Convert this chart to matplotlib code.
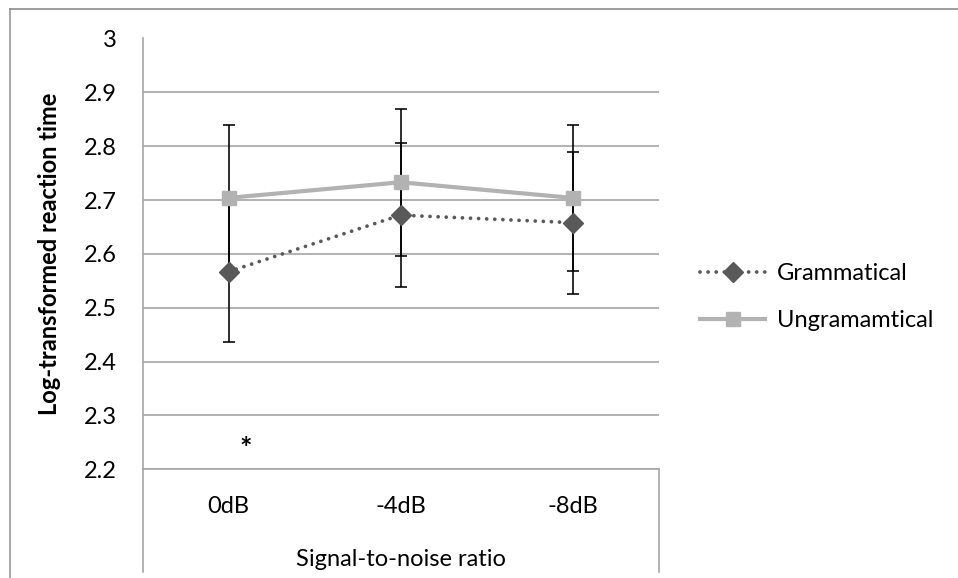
import matplotlib
matplotlib.use("Agg")
import matplotlib.pyplot as plt
from matplotlib.lines import Line2D
import numpy as np

plt.rcParams['font.family'] = ['Lato', 'DejaVu Sans']

# Data
categories = ["0dB", "-4dB", "-8dB"]
grammatical = [2.567, 2.672, 2.658]
grammatical_err = [0.130, 0.134, 0.132]
ungrammatical = [2.704, 2.733, 2.704]
ungrammatical_err = [0.135, 0.137, 0.135]
y_ticks = [2.2, 2.3, 2.4, 2.5, 2.6, 2.7, 2.8, 2.9, 3.0]
y_tick_labels = ["2.2", "2.3", "2.4", "2.5", "2.6", "2.7", "2.8", "2.9", "3"]
series_labels = ["Grammatical", "Ungramamtical"]
x_title = "Signal-to-noise ratio"
y_title = "Log-transformed reaction time"
note_text = "*"
note_pos = (0.1, 2.222)

W, H = 958, 578
FS = 17
fig = plt.figure(figsize=(W / 100, H / 100), dpi=100)

left_px, right_px = 142.5, 658.5
top_px, bottom_px = 38.5, 469.3
plot_h = bottom_px - top_px
ax = fig.add_axes([left_px / W, 1 - bottom_px / H,
                   (right_px - left_px) / W, plot_h / H])

x = np.arange(len(categories))
grid_c = "#A6A6A6"
gram_c = "#595959"
ungram_c = "#B2B2B2"

# Error bars
ax.errorbar(x, grammatical, yerr=grammatical_err, fmt="none", ecolor="black",
            elinewidth=1.15, capsize=4.3, capthick=1.15, zorder=3)
ax.errorbar(x, ungrammatical, yerr=ungrammatical_err, fmt="none", ecolor="black",
            elinewidth=1.15, capsize=4.3, capthick=1.15, zorder=3)

# Series
gram_line, = ax.plot(x, grammatical, color=gram_c, lw=2.7, linestyle=(0, (0.01, 2.15)),
                     dash_capstyle="round", marker="D", markersize=10,
                     markerfacecolor=gram_c, markeredgecolor=gram_c, zorder=4)
ungram_line, = ax.plot(x, ungrammatical, color=ungram_c, lw=3.0, marker="s",
                       markersize=10.5, markerfacecolor=ungram_c,
                       markeredgecolor=ungram_c, zorder=4)

ax.set_xlim(-0.5, len(categories) - 0.5)
ax.set_ylim(2.2, 3.0)
ax.set_yticks(y_ticks)
ax.set_yticklabels(y_tick_labels)
ax.yaxis.grid(True, color=grid_c, lw=1.2)
ax.set_axisbelow(True)
ax.tick_params(axis="y", length=0, pad=18.4, labelsize=FS, colors="black")
ax.set_xticks([])
for side in ("top", "right"):
    ax.spines[side].set_visible(False)
for side in ("left", "bottom"):
    ax.spines[side].set_color(grid_c)
    ax.spines[side].set_linewidth(1.2)

ax.set_ylabel(y_title, fontsize=FS, fontweight="bold")
ax.yaxis.set_label_coords((61 - left_px) / (right_px - left_px), 0.5)

ax.text(note_pos[0], note_pos[1], note_text, fontsize=21, fontweight="bold",
        ha="center", va="baseline")

# Category labels and axis title inside the category box
def below(px):
    return -(px - bottom_px) / plot_h

for xi, lab in zip(x, categories):
    ax.text(xi, below(513.3), lab, transform=ax.get_xaxis_transform(),
            ha="center", va="baseline", fontsize=FS)
ax.text(0.5, below(565.7), x_title, transform=ax.transAxes,
        ha="center", va="baseline", fontsize=FS)

# Category box side lines
for px in (left_px, right_px):
    fig.add_artist(Line2D([px / W, px / W], [1 - bottom_px / H, 1 - 572 / H],
                          transform=fig.transFigure, color=grid_c, lw=1.2))

# Outer chart border (left and top)
fig.add_artist(Line2D([9.5 / W, 9.5 / W], [1 - 8.5 / H, 0], transform=fig.transFigure,
                      color="#9A9A9A", lw=1.2))
fig.add_artist(Line2D([9.5 / W, 1], [1 - 8.5 / H, 1 - 8.5 / H], transform=fig.transFigure,
                      color="#8C8C8C", lw=1.2))

# Legend
fig.legend([gram_line, ungram_line], series_labels, loc="center left",
           bbox_to_anchor=(691 / W, 1 - 297 / H), frameon=False, fontsize=FS,
           handlelength=2.75, handletextpad=0.5, labelspacing=1.12, borderaxespad=0)

fig.savefig("out.png", dpi=100)
